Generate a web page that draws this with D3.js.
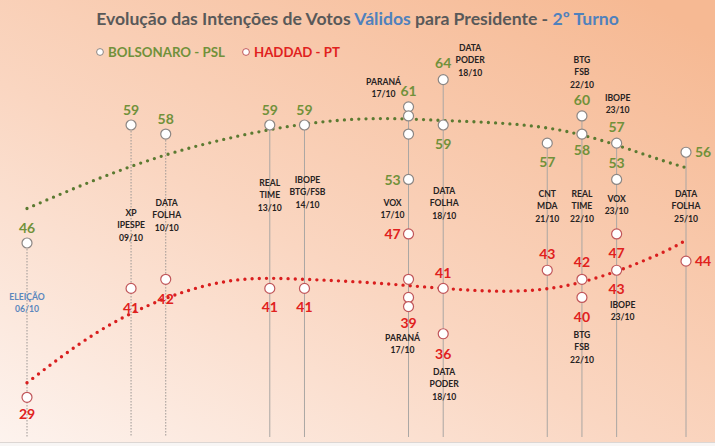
<!DOCTYPE html>
<html><head><meta charset="utf-8">
<script src="https://cdn.jsdelivr.net/npm/d3@7"></script>
<style>body{margin:0;background:#fff}svg{display:block}text{font-family:Lato,"Open Sans",sans-serif;font-weight:700}</style>
</head><body><svg id="c" width="715" height="446"></svg>
<script>
// ---------- data ----------
const pollDays        = [6, 9, 10, 13, 14, 17, 17, 17, 17, 18, 18, 21, 22, 22, 23, 23, 25];
const bolsonaroValues = [46, 59, 58, 59, 59, 61, 60, 58, 53, 64, 59, 57, 60, 58, 57, 53, 56];
const haddadValues    = [29, 41, 42, 41, 41, 47, 42, 40, 39, 41, 36, 43, 42, 40, 47, 43, 44];
const bolsonaroShown  = [1, 1, 1, 1, 1, 1, 0, 0, 1, 1, 1, 1, 1, 1, 1, 1, 1];
const haddadShown     = [1, 1, 1, 1, 1, 1, 0, 0, 1, 1, 1, 1, 1, 1, 1, 1, 1];
const trendDays            = [6, 8, 10, 12, 14, 16, 18, 20, 22, 24, 25];
const bolsonaroTrendValues = [49.8, 53.0, 55.7, 57.7, 59.1, 59.7, 59.5, 59.1, 57.9, 55.5, 54.3];
const haddadTrendValues    = [30.6, 36.1, 39.9, 41.9, 42.0, 41.6, 41.0, 40.7, 41.7, 44.4, 46.3];
const pollNames = [
  ["ELEIÇÃO","06/10"], ["XP","IPESPE","09/10"], ["DATA","FOLHA","10/10"], ["REAL","TIME","13/10"],
  ["IBOPE","BTG/FSB","14/10"], ["PARANÁ","17/10"], ["DATA","PODER","18/10"], ["VOX","17/10"],
  ["DATA","FOLHA","18/10"], ["PARANÁ","17/10"], ["DATA","PODER","18/10"], ["CNT","MDA","21/10"],
  ["REAL","TIME","22/10"], ["BTG","FSB","22/10"], ["IBOPE","23/10"], ["VOX","23/10"],
  ["DATA","FOLHA","25/10"], ["BTG","FSB","22/10"], ["IBOPE","23/10"]
];
const pollNameDays = [6, 9, 10, 13, 14, 17, 18, 17, 18, 17, 18, 21, 22, 22, 23, 23, 25, 22, 23];
const titleParts = [["Evolução das Intenções de Votos ", "gray"], ["Válidos", "blue"], [" para Presidente - ", "gray"], ["2º Turno", "blue"]];
const legendNames = ["BOLSONARO - PSL", "HADDAD - PT"];

// ---------- layout (pixels / styles) ----------
const W = 715, H = 446;
const green = "#71913a", red = "#e0211d", blue = "#4f81bd", gray = "#595959";
const bLabelOff = [[0,-15],[0,-15],[0,-15],[0,-15],[0,-15],[0,-16],null,null,[-16,0],[0,-17],[0,19],[0,19],[0,-16],[0,16],[0,-16],[0,-17],[17,0]];
const hLabelOff = [[0,17],[0,20],[0,20],[0,19],[0,19],[-16,0],null,null,[0,16],[0,-15],[0,20],[0,-16],[0,-17],[0,19],[0,19],[0,19],[17,0]];
// [dx from poll x, first baseline y]
const nameLayout = [[0,300],[0,216],[1,206],[0,186],[3,183],[-25,85],[27,51],[-16,206],[1,194],[-6,341],[1,375],[0,197],[0,197],[0,63],[1,101],[0,202],[0,197],[0,338],[6,308]];

const svg = d3.select("#c");
const defs = svg.append("defs");
const lg = defs.append("linearGradient").attr("id","bg").attr("x1","0").attr("y1","1").attr("x2","0.9").attr("y2","0");
lg.append("stop").attr("offset","0").attr("stop-color","#fdf3ee");
lg.append("stop").attr("offset","0.45").attr("stop-color","#fad6c1");
lg.append("stop").attr("offset","1").attr("stop-color","#f6b993");
svg.append("rect").attr("width",W).attr("height",H).attr("fill","#f8f6f5");
svg.append("rect").attr("width",W).attr("height",442).attr("fill","url(#bg)");
svg.append("line").attr("x1",0).attr("x2",W).attr("y1",442.5).attr("y2",442.5).attr("stroke","#dcd6d3");

const x = d3.scaleLinear().domain([6, 25]).range([27, 686]);
const y = d3.scaleLinear().domain([46, 59]).range([243, 125]);

// vertical guide lines
const uniqDays = Array.from(new Set(pollDays));
uniqDays.forEach(d => {
  const vals = pollDays.map((pd,i)=>pd===d?bolsonaroValues[i]:null).filter(v=>v!==null);
  const top = y(d3.max(vals));
  svg.append("line").attr("x1",x(d)).attr("x2",x(d)).attr("y1",top).attr("y2",437)
    .attr("stroke", d<=10 ? "#9c9794" : "#aaa6a3").attr("stroke-width",1)
    .attr("stroke-dasharray", d<=10 ? "1.5,1.5" : null);
});

// trend lines
const line = d3.line().curve(d3.curveNatural);
svg.append("path").attr("d", line(trendDays.map((d,i)=>[x(d), y(bolsonaroTrendValues[i])])))
  .attr("fill","none").attr("stroke","#5b7a31").attr("stroke-width",3.3).attr("stroke-linecap","round").attr("stroke-dasharray","0,7.2");
svg.append("path").attr("d", line(trendDays.map((d,i)=>[x(d), y(haddadTrendValues[i])])))
  .attr("fill","none").attr("stroke","#d91e1e").attr("stroke-width",3.4).attr("stroke-linecap","round").attr("stroke-dasharray","0,7.2");

// markers
svg.selectAll("circle.b").data(pollDays).join("circle").attr("class","b")
  .attr("cx",d=>x(d)).attr("cy",(d,i)=>y(bolsonaroValues[i])).attr("r",5)
  .attr("fill","#fff").attr("stroke","#8c8683").attr("stroke-width",1.2);
svg.selectAll("circle.h").data(pollDays).join("circle").attr("class","h")
  .attr("cx",d=>x(d)).attr("cy",(d,i)=>y(haddadValues[i])).attr("r",5)
  .attr("fill","#fff").attr("stroke","#c0565a").attr("stroke-width",1.2);

// value labels
function valueLabels(vals, shown, off, color){
  vals.forEach((v,i)=>{
    if(!shown[i]) return;
    const o = off[i];
    svg.append("text").attr("x",x(pollDays[i])+o[0]).attr("y",y(v)+o[1]).attr("dy","0.36em")
      .attr("text-anchor","middle").attr("font-size",14).attr("fill",color).text(v);
  });
}
valueLabels(bolsonaroValues, bolsonaroShown, bLabelOff, green);
valueLabels(haddadValues, haddadShown, hLabelOff, red);

// poll names
pollNames.forEach((lines,i)=>{
  const t = svg.append("text").attr("text-anchor","middle").attr("font-size",8.6)
    .attr("fill", i===0 ? "#5a86bd" : "#262222");
  lines.forEach((s,j)=>t.append("tspan").attr("x",x(pollNameDays[i])+nameLayout[i][0]).attr("y",nameLayout[i][1]+j*(i===14?11.6:12.3)).text(s));
});

// title
const title = svg.append("text").attr("x",W/2).attr("y",25).attr("text-anchor","middle").attr("font-size",17);
titleParts.forEach(p=>title.append("tspan").attr("fill",p[1]==="blue"?blue:gray).text(p[0]));
(function fit(){const L=title.node().getComputedTextLength();title.attr("font-size",17*523/L);})();

// legend
const legX = [100, 246], legW = [117, 86], legC = [green, red];
legendNames.forEach((n,i)=>{
  svg.append("circle").attr("cx",legX[i]).attr("cy",52).attr("r",3.4).attr("fill","#fff").attr("stroke",i?"#c0565a":"#8c8683").attr("stroke-width",1);
  const t = svg.append("text").attr("x",legX[i]+8).attr("y",57).attr("font-size",14).attr("fill",legC[i]).text(n);
  const L = t.node().getComputedTextLength(); t.attr("font-size",14*legW[i]/L);
});
</script></body></html>
